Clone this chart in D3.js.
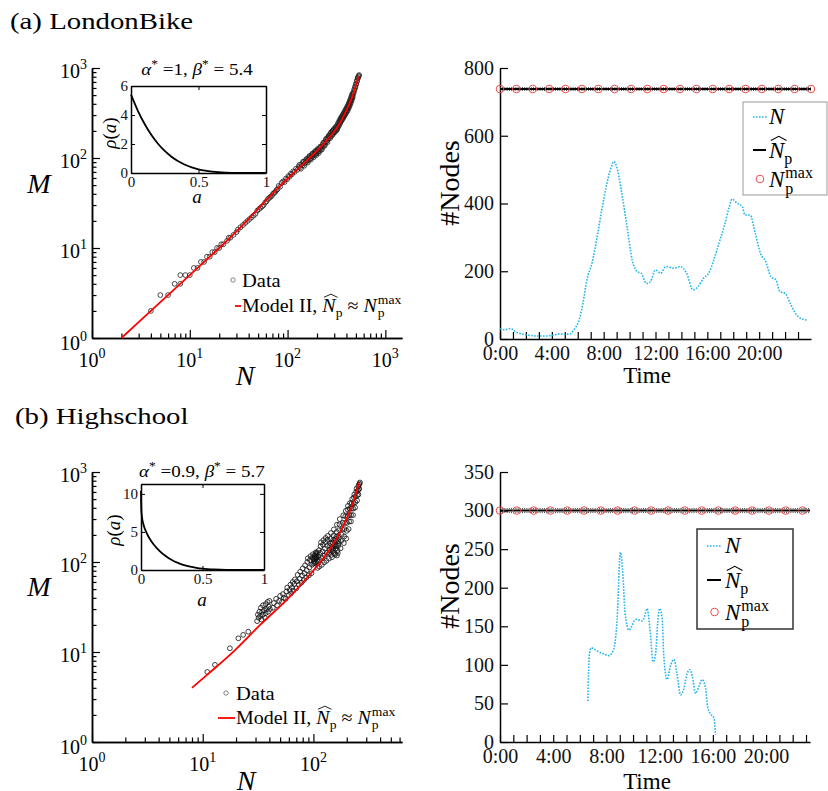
<!DOCTYPE html>
<html><head><meta charset="utf-8">
<script src="https://cdn.jsdelivr.net/npm/d3@7"></script>
<style>
body{margin:0;background:#fff}
svg{display:block;background:#fff}
text{font-family:'Liberation Serif','Times New Roman',serif}
</style>
</head><body>
<svg id="c" width="828" height="791"></svg>
<script>
// ---------------- DATA ----------------
// (a) LondonBike : M vs N scatter
const dataA_lowN = [4,5,6,7,8,8,9,10,11,12,13,14,15,16,17,18,19,20,21,22,24,25,26,28,30,31,33,35,37,39,41,43,45,47,49,51,53,55,57,59,61,63,65,67,69,71,73,75,77,79];
const dataA_lowM = [2,3,3,4,4,5,5,5,6,6,7,7,8,8,9,9,10,10,11,11,12,13,13,14,15,16,17,18,19,20,21,22,23,24,26,27,28,29,30,32,33,35,36,37,38,40,41,42,44,45];
const dataA_highN = [81,84,87,90,93,96,99,102,105,108,111,114,118,122,126,130,134,138,142,146,150,153,156,159,162,165,168,171,174,177,180,183,186,189,192,195,198,201,204,207,210,214,218,222,226,230,234,238,242,246,250,254,258,262,266,270,275,280,285,290,295,300,305,310,315,320,325,330,335,340,345,350,355,360,365,370,375,380,385,390,395,400,405,410,415,420,425,430,435,440,445,450,455,460,465,470,475,480,485,490,495,500,505,510,515,520,525,530,535,540];
const dataA_highM = [49,48,53,55,54,59,58,63,62,67,66,71,70,76,74,80,78,85,83,90,87,93,91,98,94,101,97,105,100,108,104,112,108,115,110,119,113,121,117,125,119,129,123,134,130,142,137,149,144,160,153,166,160,174,168,182,176,191,183,199,192,206,199,214,207,223,217,238,232,254,248,270,263,284,276,298,290,313,304,331,321,348,338,367,356,388,377,412,402,440,430,471,460,505,492,538,528,580,570,625,612,670,660,722,712,775,770,800,818,835];
const dataA_extraN = [132,137,144,148,155,161,167,173,179,185,191,197,203,209,216,224,232,240,248,256,264,272,278,283,288,293,298,303,308,313,318,323,328,333,338,343,348,353,358,363,368,373,378,383,388,393,398,403,408,413,418,423,428,433,438,443,448,453,458,463];
const dataA_extraM = [84,76,91,82,97,89,105,96,112,102,119,108,126,114,134,124,148,137,163,150,176,166,193,176,201,185,210,193,219,200,228,209,244,226,260,241,276,255,290,268,305,282,320,297,338,310,355,326,372,339,394,360,418,382,446,408,478,437,512,468];
const modelA_N = [2,5,10,20,33,52,84,135,216,260,319,360,404,472,532];
const modelA_M = [1,2.5,5,10,17,28.5,49,80,131,164,215,269,347,522,803];

// (b) Highschool : M vs N scatter
const dataB_pts = [[11,6.0],[12.9,7.2],[17.6,11],[21,14.2],[23.2,15.5],[25.8,16.8],
[31,22],[31.5,26],[32,24],[32.5,28],[33,25],[33.5,31],[34,23],[34.5,28],[35,26],[35,33],[36,29],[36.5,24],[37,27],[37,34],[38,30],[38.5,36],[39,28],[39.5,32],[40,37],[40.5,30],
[43,31],[44,35],[46,39],[47,33],[49,37],[50,42],[52,36],[53,44],[54,40],[56,39],[57,47],[58,52],[60,43],[61,49],[62,56],[63,45],[64,52],[65,60],[66,48],[67,57],[68,64],[70,51],[71,61],[72,72],[74,56],[75,65],[76,78],[78,59],[79,71],[80,85],[82,63],[83,75],[84,92],[86,67],[87,81],[88,100],[89,110],[91,71],[92,87],[93,105],[94,116],[96,75],[97,93],[98,111],[99,122],[100,96],[101,101],[102,106],[103,113],[104,120],[105,99],[106,109],[107,118],[108,128],[109,86],[110,101],[111,116],[112,135],[113,89],[114,106],[115,126],[116,150],[117,165],[119,93],[120,111],[121,131],[122,156],[123,175],[125,99],[126,119],[127,141],[128,166],[129,185],[131,103],[132,126],[133,151],[134,176],[135,195],[138,109],[139,126],[140,136],[141,151],[142,161],[143,181],[144,210],[147,113],[148,131],[149,146],[150,161],[151,176],[152,196],[153,230],[157,121],[158,141],[159,156],[160,171],[161,191],[162,216],[163,260],[166,126],[167,151],[168,171],[169,196],[171,226],[172,262],[173,300],[176,142],[178,171],[180,201],[182,232],[184,272],[186,330],[188,162],[190,192],[191,232],[193,272],[194,322],[196,370],[198,182],[200,222],[201,272],[203,322],[204,382],[205,420],[208,232],[210,282],[211,332],[213,392],[214,452],[218,282],[219,332],[221,392],[222,452],[224,500],[228,332],[229,392],[231,452],[232,522],[234,562],[238,402],[239,462],[241,532],[243,602],[245,652],[248,482],[250,552],[252,622],[254,692],[255,562],[257,642],[258,722],[259,652],[261,742],[263,765],
[100,110],[102,118],[104,112],[106,124],[108,104],[105,128],[103,97],[107,113],
[145,120],[150,140],[155,125],[160,150],[165,135],[148,165],[158,180],[168,160],[163,118],[153,150],[170,185],[146,140]];
const modelB_N = [8,11,19.6,33,57,87,123,162,200,230,258];
const modelB_M = [4,5.6,10.5,20,37.8,66,110,183,306,468,760];

// insets rho(a)
const insetA_a = [0,0.05,0.1,0.15,0.2,0.25,0.3,0.35,0.4,0.45,0.5,0.55,0.6,0.65,0.7,0.75,0.8,0.9,1];
const insetA_rho = [5.4,4.31,3.40,2.64,2.02,1.52,1.12,0.81,0.57,0.39,0.256,0.161,0.096,0.053,0.027,0.012,0.0045,0.0002,0];
const insetB_a = [0.0002,0.0005,0.002,0.005,0.01,0.02,0.04,0.06,0.08,0.1,0.15,0.2,0.25,0.3,0.35,0.4,0.45,0.5,0.6,0.7,0.8,1];
const insetB_rho = [10.4,9.49,8.20,7.38,6.72,5.98,5.07,4.40,3.87,3.41,2.51,1.83,1.32,0.94,0.65,0.44,0.29,0.18,0.063,0.016,0.002,0];

// #Nodes time series
const timeA = [0,0.4,0.8,1.3,1.7,2.1,2.8,3.6,4.1,4.6,5.0,5.4,5.7,6.1,6.4,6.7,7.1,7.5,7.9,8.2,8.6,8.8,9.0,9.4,9.8,10.2,10.6,10.9,11.3,11.6,12.0,12.4,12.8,13.4,13.9,14.4,14.9,15.3,15.7,16.1,16.5,16.9,17.3,17.7,17.9,18.3,18.7,18.9,19.3,19.7,20.1,20.5,20.9,21.3,21.6,22.0,22.4,22.8,23.2,23.7];
const nodesA = [31,27,31,19,15,12,9,9,11,15,14,15,27,56,105,174,224,302,391,450,509,524,509,430,332,233,199,194,164,169,204,194,214,209,214,194,145,155,179,194,233,283,332,391,413,401,391,366,366,312,253,229,184,174,140,135,105,76,61,56];
const timeB = [6.6,6.73,6.86,7.3,7.8,8.2,8.4,8.6,8.8,9.05,9.25,9.4,9.7,9.9,10.2,10.7,10.85,11.05,11.3,11.5,11.7,11.85,12.0,12.2,12.3,12.56,12.8,13.07,13.3,13.57,13.8,14.07,14.27,14.45,14.7,14.95,15.2,15.45,15.6,15.8,16.08,16.2];
const nodesB = [53,115,122,118,114,112,115,124,158,246,214,167,145,150,159,157,162,173,141,104,115,154,173,158,115,81,98,107,89,61,68,89,94,85,63,72,81,70,46,37,31,9];
const NpA = 738, NpA_band = 4;
const NpB = 300, NpB_band = 2.6;
const circTimesA = [0,1.26,2.53,3.79,5.05,6.32,7.58,8.84,10.11,11.37,12.63,13.89,15.16,16.42,17.68,18.95,20.21,21.47,22.74,24];
const circTimesB = [0,1.26,2.53,3.79,5.05,6.32,7.58,8.84,10.11,11.37,12.63,13.89,15.16,16.42,17.68,18.95,20.21,21.47,22.74];
const yTicksA = [0,200,400,600,800];
const yTicksB = [0,50,100,150,200,250,300,350];
const hourTicks = d3.range(0,24);
const hourLabels = [0,4,8,12,16,20];
const logExpA = [0,1,2,3];
const logExpB = [0,1,2];

// ---------------- HELPERS ----------------
const svg = d3.select('#c');
svg.append('rect').attr('width',828).attr('height',791).attr('fill','#fff');

function mtext(parent, x, y, segs, o = {}) {
  const g = parent.append('g');
  const inner = g.append('g');
  let cx = 0;
  segs.forEach(s => {
    const t = inner.append('text').attr('x', cx).attr('y', s.dy || 0)
      .attr('font-size', s.size).attr('font-style', s.it ? 'italic' : 'normal')
      .attr('fill', o.fill || '#000').text(s.t.replace(/ /g, '\u00a0'));
    const w = t.node().getComputedTextLength();
    if (s.hat) {
      const top = (s.dy || 0) - s.size * 0.72;
      inner.append('path')
        .attr('d', `M${cx + w * 0.12},${top - 1} L${cx + w * 0.64},${top - s.size * 0.22} L${cx + w * 1.14},${top - 1}`)
        .attr('fill', 'none').attr('stroke', '#000').attr('stroke-width', s.size * 0.045);
    }
    if (!s.noadv) cx += w;
    cx += (s.sp || 0);
  });
  const sx = o.sx || 1;
  const shift = o.anchor === 'middle' ? -cx / 2 : o.anchor === 'end' ? -cx : 0;
  inner.attr('transform', `scale(${sx},1) translate(${shift},0)`);
  g.attr('transform', `translate(${x},${y})` + (o.rot ? ` rotate(${o.rot})` : ''));
  return g;
}

function styleAxis(g, w) {
  g.selectAll('path.domain').attr('stroke', '#000').attr('stroke-width', w || 1.5);
  g.selectAll('.tick line').attr('stroke', '#000').attr('stroke-width', 1.2);
  g.selectAll('.tick text').attr('fill', '#111');
  g.attr('font-family', null);
}

function minorLogs(maxVal) {
  const out = [];
  for (let d = 1; d <= 1000; d *= 10) for (let k = 2; k <= 9; k++) if (k * d <= maxVal) out.push(k * d);
  return out;
}

function logPanel(cfg) {
  const { x, y, expsX, expsY, xAxisY, yAxisX, data, modelN, modelM, legend, labM, labN, dotStroke } = cfg;
  const gx = svg.append('g').attr('transform', `translate(0,${xAxisY})`)
    .call(d3.axisBottom(x).tickValues(minorLogs(x.domain()[1])).tickSize(-4.5).tickFormat('').tickSizeOuter(0));
  styleAxis(gx);
  const gx2 = svg.append('g').attr('transform', `translate(0,${xAxisY})`)
    .call(d3.axisBottom(x).tickValues(expsX.map(e => Math.pow(10, e))).tickSize(-8).tickFormat('').tickSizeOuter(0));
  styleAxis(gx2);
  const gy = svg.append('g').attr('transform', `translate(${yAxisX},0)`)
    .call(d3.axisLeft(y).tickValues(minorLogs(y.domain()[1])).tickSize(-4.5).tickFormat('').tickSizeOuter(0));
  styleAxis(gy);
  const gy2 = svg.append('g').attr('transform', `translate(${yAxisX},0)`)
    .call(d3.axisLeft(y).tickValues(expsY.map(e => Math.pow(10, e))).tickSize(-8).tickFormat('').tickSizeOuter(0));
  styleAxis(gy2);
  expsX.forEach(e => mtext(svg, x(Math.pow(10, e)), xAxisY + 29,
    [{ t: '10', size: 20 }, { t: String(e), size: 14, dy: -9 }], { anchor: 'middle' }));
  expsY.forEach(e => mtext(svg, yAxisX - 5, y(Math.pow(10, e)) + (e === 0 ? 12 : 10),
    [{ t: '10', size: 20 }, { t: String(e), size: 14, dy: -9 }], { anchor: 'end' }));
  svg.append('g').selectAll('circle').data(data).join('circle')
    .attr('cx', d => x(d[0])).attr('cy', d => y(d[1])).attr('r', 2.4)
    .attr('fill', 'none').attr('stroke', dotStroke).attr('stroke-width', 0.8);
  const line = d3.line().x(d => x(d[0])).y(d => y(d[1])).curve(d3.curveMonotoneX);
  svg.append('path').datum(modelN.map((n, i) => [n, modelM[i]])).attr('d', line)
    .attr('fill', 'none').attr('stroke', '#f00').attr('stroke-width', 1.8);
  mtext(svg, labM[0], labM[1], [{ t: 'M', it: 1, size: 28 }], { anchor: 'middle' });
  mtext(svg, labN[0], labN[1], [{ t: 'N', it: 1, size: 28 }], { anchor: 'middle' });
  const L = legend;
  svg.append('circle').attr('cx', L.cx).attr('cy', L.cy).attr('r', 2.2).attr('fill', 'none').attr('stroke', '#555').attr('stroke-width', 0.7);
  mtext(svg, L.tx, L.cy + 7, [{ t: 'Data', size: 19 }], { sx: 1.08 });
  svg.append('line').attr('x1', L.lx1).attr('x2', L.lx2).attr('y1', L.ly).attr('y2', L.ly).attr('stroke', '#f00').attr('stroke-width', 1.8);
  mtext(svg, L.tx, L.ly + 6, [
    { t: 'Model II, ', size: 19 }, { t: 'N', it: 1, size: 19, hat: 1 }, { t: 'p', size: 13, dy: 5 },
    { t: ' ≈ ', size: 19 }, { t: 'N', it: 1, size: 19, sp: 1 }, { t: 'p', size: 13, dy: 5, noadv: 1 }, { t: 'max', size: 13, dy: -8 }
  ], { sx: 1.05 });
}

function inset(cfg) {
  const { x, y, yt, aArr, rArr, title, rhoPos, aPos } = cfg;
  const [x0, x1] = x.range(), [y0, y1] = y.range();
  const fmt = d3.format('~g');
  const mk = (axis, tr) => {
    const g = svg.append('g').attr('transform', tr).call(axis.tickSizeOuter(0));
    styleAxis(g, 1.5);
    g.selectAll('.tick text').attr('font-size', 15);
    g.selectAll('.tick line').attr('stroke-width', 1);
    return g;
  };
  mk(d3.axisLeft(y).tickValues(yt).tickSize(-4).tickPadding(3).tickFormat(fmt), `translate(${x0},0)`);
  mk(d3.axisRight(y).tickValues(yt).tickSize(-4).tickFormat(''), `translate(${x1},0)`);
  mk(d3.axisBottom(x).tickValues([0, 0.5, 1]).tickSize(-4).tickPadding(3).tickFormat(fmt), `translate(0,${y0})`);
  mk(d3.axisTop(x).tickValues([0, 0.5, 1]).tickSize(-4).tickFormat(''), `translate(0,${y1})`);
  const line = d3.line().x(d => x(d[0])).y(d => y(d[1])).curve(d3.curveMonotoneX);
  svg.append('path').datum(aArr.map((a, i) => [a, rArr[i]])).attr('d', line)
    .attr('fill', 'none').attr('stroke', '#000').attr('stroke-width', 1.8);
  mtext(svg, title.x, title.y, [
    { t: 'α', it: 1, size: 17 }, { t: '*', size: 12, dy: -7 }, { t: ' =' + title.a + ', ', size: 17 },
    { t: 'β', it: 1, size: 17 }, { t: '*', size: 12, dy: -7 }, { t: ' = ' + title.b, size: 17 }
  ], { anchor: 'middle', sx: 1.12 });
  mtext(svg, rhoPos[0], rhoPos[1], [{ t: 'ρ', it: 1, size: 19 }, { t: '(', size: 19 }, { t: 'a', it: 1, size: 19 }, { t: ')', size: 19 }], { anchor: 'middle', rot: -90 });
  mtext(svg, aPos[0], aPos[1], [{ t: 'a', it: 1, size: 19 }], { anchor: 'middle' });
}

function timePanel(cfg) {
  const { x, y, yTicks, times, nodes, Np, band, circT, labY, timeY, legend } = cfg;
  const x0 = x.range()[0], y0 = y.range()[0];
  const gy = svg.append('g').attr('transform', `translate(${x0},0)`)
    .call(d3.axisLeft(y).tickValues(yTicks).tickSize(-8).tickPadding(6).tickSizeOuter(0));
  styleAxis(gy); gy.selectAll('.tick text').attr('font-size', 20);
  const gx = svg.append('g').attr('transform', `translate(0,${y0})`)
    .call(d3.axisBottom(x).tickValues(hourTicks).tickSize(-7).tickFormat('').tickSizeOuter(0));
  styleAxis(gx);
  const gxl = svg.append('g').attr('transform', `translate(0,${y0})`)
    .call(d3.axisBottom(x).tickValues(hourLabels).tickSize(0).tickPadding(7).tickFormat(d => d + ':00'));
  styleAxis(gxl); gxl.select('path.domain').remove(); gxl.selectAll('.tick text').attr('font-size', 20);
  const xa = x.domain()[0], xb = x.domain()[1];
  [Np - band, Np + band].forEach(v => svg.append('line').attr('x1', x(xa)).attr('x2', x(xb))
    .attr('y1', y(v)).attr('y2', y(v)).attr('stroke', '#444').attr('stroke-width', 1).attr('stroke-dasharray', '1,1.2'));
  svg.append('line').attr('x1', x(xa)).attr('x2', x(xb)).attr('y1', y(Np)).attr('y2', y(Np))
    .attr('stroke', '#000').attr('stroke-width', 2);
  svg.append('g').selectAll('circle').data(circT).join('circle')
    .attr('cx', d => x(d)).attr('cy', y(Np)).attr('r', 3.8)
    .attr('fill', 'none').attr('stroke', '#f24a4a').attr('stroke-width', 1);
  const line = d3.line().x(d => x(d[0])).y(d => y(d[1])).curve(d3.curveMonotoneX);
  svg.append('path').datum(times.map((t, i) => [t, nodes[i]])).attr('d', line)
    .attr('fill', 'none').attr('stroke', '#22b6ef').attr('stroke-width', 1.6).attr('stroke-dasharray', '1.6,1.4');
  mtext(svg, 459, labY, [{ t: '#Nodes', size: 28 }], { anchor: 'middle', rot: -90 });
  mtext(svg, 647, timeY, [{ t: 'Time', size: 23 }], { anchor: 'middle' });
  const L = legend;
  svg.append('rect').attr('x', L.x).attr('y', L.y).attr('width', L.w).attr('height', L.h)
    .attr('fill', '#fff').attr('stroke', L.stroke).attr('stroke-width', L.sw);
  svg.append('line').attr('x1', L.lx1).attr('x2', L.lx2).attr('y1', L.y1).attr('y2', L.y1)
    .attr('stroke', '#22b6ef').attr('stroke-width', 1.6).attr('stroke-dasharray', '1.6,1.4');
  mtext(svg, L.tx, L.y1 + 7, [{ t: 'N', it: 1, size: 23 }]);
  svg.append('line').attr('x1', L.lx1).attr('x2', L.lx2 - 1).attr('y1', L.y2).attr('y2', L.y2)
    .attr('stroke', '#000').attr('stroke-width', 2);
  mtext(svg, L.tx, L.y2 + 8, [{ t: 'N', it: 1, size: 23, hat: 1 }, { t: 'p', size: 16, dy: 6 }]);
  svg.append('circle').attr('cx', (L.lx1 + L.lx2) / 2).attr('cy', L.y3).attr('r', 3.8)
    .attr('fill', 'none').attr('stroke', '#f24a4a').attr('stroke-width', 1);
  mtext(svg, L.tx, L.y3 + 8, [{ t: 'N', it: 1, size: 23, sp: 1 }, { t: 'p', size: 16, dy: 7, noadv: 1 }, { t: 'max', size: 16, dy: -9 }]);
}

// ---------------- PANEL TITLES ----------------
mtext(svg, 10, 29, [{ t: '(a) LondonBike', size: 24 }], { sx: 1.2 });
mtext(svg, 15, 424, [{ t: '(b) Highschool', size: 24 }], { sx: 1.2 });

// ---------------- (a) left ----------------
const xA = d3.scaleLog().domain([1, 1480]).range([92, 402]);
const yA = d3.scaleLog().domain([1, 1000]).range([338, 68]);
const dataA = dataA_lowN.map((n, i) => [n, dataA_lowM[i]])
  .concat(dataA_highN.map((n, i) => [n, dataA_highM[i]]))
  .concat(dataA_extraN.map((n, i) => [n, dataA_extraM[i]]));
logPanel({ x: xA, y: yA, expsX: logExpA, expsY: logExpA, xAxisY: 338, yAxisX: 92, data: dataA,
  modelN: modelA_N, modelM: modelA_M, labM: [39, 193], labN: [245, 385], dotStroke: '#222',
  legend: { cx: 233, cy: 280, tx: 242, lx1: 235, lx2: 241, ly: 306 } });
inset({ x: d3.scaleLinear().domain([0, 1]).range([131, 266]), y: d3.scaleLinear().domain([0, 6]).range([173, 86]),
  yt: [0, 2, 4, 6], aArr: insetA_a, rArr: insetA_rho, title: { x: 197, y: 75, a: '1', b: '5.4' },
  rhoPos: [116, 133], aPos: [197, 203] });

// ---------------- (b) left ----------------
const xB = d3.scaleLog().domain([1, 631]).range([92, 402]);
const yB = d3.scaleLog().domain([1, 1000]).range([742, 472]);
logPanel({ x: xB, y: yB, expsX: logExpB, expsY: logExpA, xAxisY: 742, yAxisX: 92, data: dataB_pts,
  modelN: modelB_N, modelM: modelB_M, labM: [39, 596], labN: [246, 790], dotStroke: '#111',
  legend: { cx: 226, cy: 693, tx: 236, lx1: 218, lx2: 235, ly: 718 } });
inset({ x: d3.scaleLinear().domain([0, 1]).range([141, 264]), y: d3.scaleLinear().domain([0, 11.3]).range([570, 484]),
  yt: [0, 5, 10], aArr: insetB_a, rArr: insetB_rho, title: { x: 202, y: 477, a: '0.9', b: '5.7' },
  rhoPos: [120, 530], aPos: [202, 606] });

// ---------------- (a) right ----------------
timePanel({ x: d3.scaleLinear().domain([0, 24]).range([500, 811]), y: d3.scaleLinear().domain([0, 800]).range([339, 68]),
  yTicks: yTicksA, times: timeA, nodes: nodesA, Np: NpA, band: NpA_band, circT: circTimesA, labY: 183, timeY: 383,
  legend: { x: 743, y: 102, w: 84, h: 93, stroke: '#999', sw: 1, lx1: 753, lx2: 767, tx: 769, y1: 117, y2: 150, y3: 179 } });

// ---------------- (b) right ----------------
timePanel({ x: d3.scaleLinear().domain([0, 23.3]).range([500, 810]), y: d3.scaleLinear().domain([0, 350]).range([742, 472]),
  yTicks: yTicksB, times: timeB, nodes: nodesB, Np: NpB, band: NpB_band, circT: circTimesB, labY: 586, timeY: 789,
  legend: { x: 697, y: 529, w: 96, h: 100, stroke: '#333', sw: 1.5, lx1: 707, lx2: 722, tx: 725, y1: 546, y2: 580, y3: 612 } });
</script>
</body></html>
